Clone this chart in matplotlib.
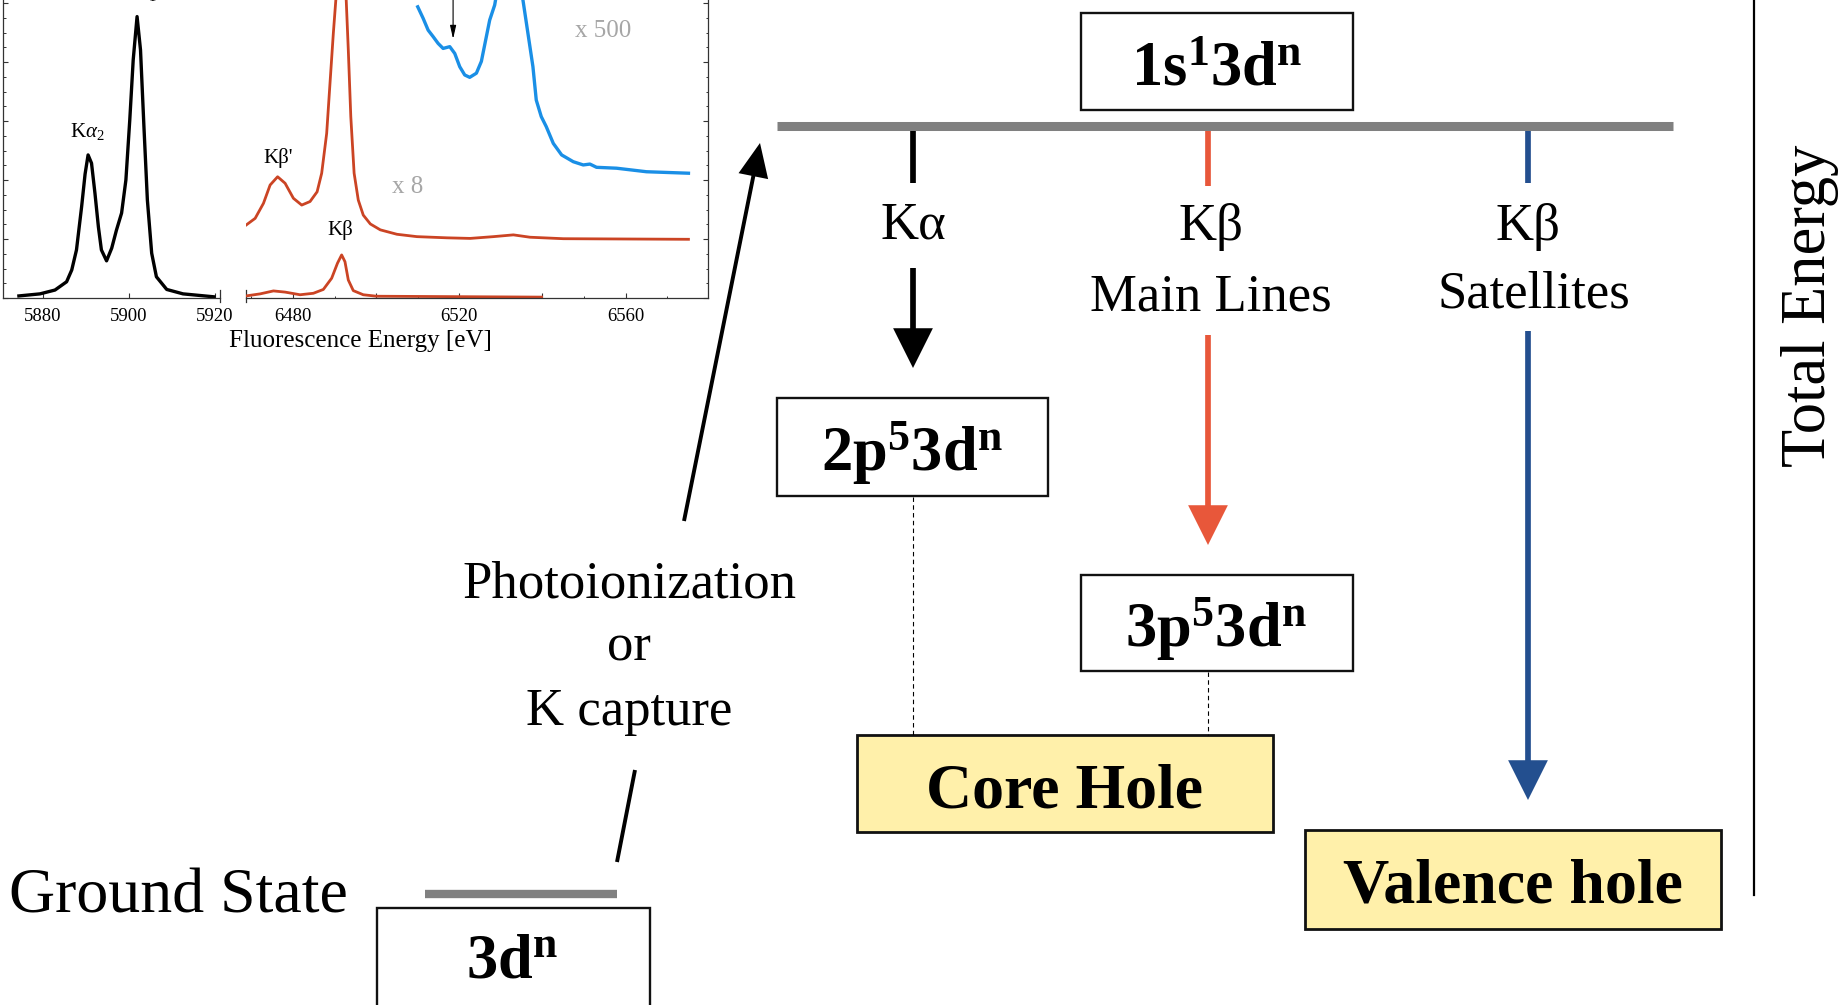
import matplotlib
matplotlib.use("Agg")
import matplotlib.pyplot as plt
from matplotlib.patches import Rectangle, FancyArrowPatch, ArrowStyle
from matplotlib.ticker import FixedLocator, FixedFormatter, MultipleLocator, NullFormatter

plt.rcParams['font.family'] = ['Liberation Serif', 'DejaVu Serif']
plt.rcParams['mathtext.fontset'] = 'custom'
plt.rcParams['mathtext.rm'] = 'Liberation Serif'
plt.rcParams['mathtext.it'] = 'Liberation Serif:italic'
plt.rcParams['mathtext.bf'] = 'Liberation Serif:bold'

# ---------------- emission spectra (normalised intensity) ----------------
ka_energy = [5874.4, 5879.3, 5882.8, 5885.5, 5886.7, 5887.8, 5889.0, 5889.8, 5890.5,
             5891.3, 5892.1, 5892.9, 5893.6, 5894.8, 5896.0, 5897.1, 5898.3, 5899.3,
             5900.2, 5901.0, 5901.9, 5902.7, 5903.5, 5904.3, 5905.3, 5906.4, 5908.8,
             5912.6, 5919.8]
ka_intensity = [0.007, 0.014, 0.027, 0.055, 0.095, 0.163, 0.31, 0.42, 0.485,
                0.457, 0.355, 0.241, 0.163, 0.126, 0.169, 0.23, 0.288, 0.40,
                0.603, 0.807, 0.954, 0.841, 0.58, 0.332, 0.152, 0.072, 0.029,
                0.014, 0.004]

kb_energy = [6468.7, 6472.1, 6475.3, 6478.1, 6481.7, 6484.9, 6487.3, 6489.3, 6490.7,
             6491.7, 6492.5, 6493.3, 6494.5, 6496.9, 6500.1, 6539.8]
kb_intensity = [0.007, 0.014, 0.024, 0.020, 0.011, 0.016, 0.029, 0.067, 0.118,
                0.146, 0.123, 0.061, 0.025, 0.011, 0.006, 0.003]

kb_x8_energy = [6468.7, 6470.9, 6472.9, 6474.5, 6476.3, 6478.1, 6480.1, 6482.1, 6484.1,
                6485.8, 6486.9, 6488.1, 6488.9, 6489.7, 6490.3, 6491.6, 6492.8, 6493.3,
                6493.9, 6494.7, 6495.7, 6496.9, 6498.6, 6501.0, 6505.0, 6509.8, 6517.0,
                6522.6, 6528.2, 6533.0, 6537.0, 6545.0, 6575.1]
kb_x8_intensity = [0.247, 0.27, 0.321, 0.383, 0.411, 0.389, 0.338, 0.315, 0.327,
                   0.36, 0.423, 0.558, 0.728, 0.897, 1.01, 1.37, 1.01, 0.841,
                   0.615, 0.423, 0.332, 0.281, 0.251, 0.231, 0.216, 0.208, 0.204,
                   0.202, 0.208, 0.214, 0.206, 0.201, 0.199]

kb_x500_energy = [6510.0, 6511.3, 6512.5, 6513.7, 6514.9, 6516.1, 6517.7, 6518.9, 6520.1,
                  6521.3, 6522.5, 6524.1, 6525.3, 6526.5, 6527.3, 6528.5, 6529.2, 6531.5,
                  6535.3, 6536.5, 6537.7, 6538.5, 6539.7, 6540.9, 6542.6, 6544.6, 6547.4,
                  6549.8, 6551.4, 6553.0, 6557.8, 6565.0, 6575.1]
kb_x500_intensity = [0.987, 0.948, 0.908, 0.886, 0.863, 0.846, 0.852, 0.829, 0.784,
                     0.756, 0.748, 0.762, 0.802, 0.886, 0.942, 0.993, 1.05, 1.30,
                     1.01, 0.897, 0.784, 0.671, 0.615, 0.581, 0.524, 0.485, 0.462,
                     0.451, 0.454, 0.443, 0.44, 0.428, 0.423]

ka_ticks = [5880, 5900, 5920]
kb_ticks = [6480, 6500, 6520, 6540, 6560]
kb_tick_labels = ['6480', '', '6520', '', '6560']

# ---------------- figure in pixel units ----------------
W, H = 1843, 1005
fig = plt.figure(figsize=(W / 100, H / 100), dpi=100)
dg = fig.add_axes([0, 0, 1, 1])
dg.set_xlim(0, W)
dg.set_ylim(H, 0)
dg.axis('off')
dg.patch.set_alpha(0)

GRAY = '#808080'
YELLOW = '#FFF0AA'
RED = '#E8573A'
BLUE = '#234F8F'


def box(x0, x1, y0, y1, fill='white', lw=1.7):
    dg.add_patch(Rectangle((x0, y0), x1 - x0, y1 - y0, facecolor=fill,
                           edgecolor='#111111', lw=lw, zorder=2))


def arrow(p0, p1, color, lw=4.1, hl=22, hw=11):
    style = ArrowStyle('-|>', head_length=hl, head_width=hw)
    dg.add_patch(FancyArrowPatch(p0, p1, arrowstyle=style, mutation_scale=1,
                                 lw=lw, color=color, shrinkA=0, shrinkB=0,
                                 joinstyle='miter', capstyle='butt', zorder=3))


# energy levels
dg.plot([777, 1673], [126, 126], color=GRAY, lw=6.5, solid_capstyle='butt')
dg.plot([425, 617], [894, 894], color=GRAY, lw=6.0, solid_capstyle='butt')

# configuration boxes
box(1081, 1353, 13, 110)
box(777, 1048, 398, 496)
box(1081, 1353, 575, 671)
box(377, 650, 908, 1100)
box(857, 1273, 735, 832, fill=YELLOW, lw=2.0)
box(1305, 1721, 830, 929, fill=YELLOW, lw=2.0)

BOXFS = 45
dg.text(1217, 85, r'$\mathbf{1s^{1}3d^{n}}$', fontsize=BOXFS, ha='center', va='baseline')
dg.text(912, 471, r'$\mathbf{2p^{5}3d^{n}}$', fontsize=BOXFS, ha='center', va='baseline')
dg.text(1216, 647, r'$\mathbf{3p^{5}3d^{n}}$', fontsize=BOXFS, ha='center', va='baseline')
dg.text(512, 977, r'$\mathbf{3d^{n}}$', fontsize=BOXFS, ha='center', va='baseline')
dg.text(1065, 807, 'Core Hole', fontsize=46, fontweight='bold', ha='center', va='baseline', zorder=4)
dg.text(1513, 902, 'Valence hole', fontsize=46, fontweight='bold', ha='center', va='baseline', zorder=4)

# decay channels
dg.plot([913, 913], [131, 183], color='black', lw=4.1, solid_capstyle='butt')
dg.plot([1208, 1208], [131, 186], color=RED, lw=4.1, solid_capstyle='butt')
dg.plot([1528, 1528], [131, 183], color=BLUE, lw=4.1, solid_capstyle='butt')
arrow((913, 268), (913, 368), 'black')
arrow((1208, 335), (1208, 545), RED)
arrow((1528, 331), (1528, 800), BLUE)

LBLFS = 38
dg.text(913, 238, 'Kα', fontsize=LBLFS, ha='center', va='baseline')
dg.text(1211, 240, 'Kβ', fontsize=LBLFS, ha='center', va='baseline')
dg.text(1211, 310, 'Main Lines', fontsize=LBLFS, ha='center', va='baseline')
dg.text(1528, 240, 'Kβ', fontsize=LBLFS, ha='center', va='baseline')
dg.text(1534, 307, 'Satellites', fontsize=LBLFS, ha='center', va='baseline')

# thin connectors to the core-hole box
dg.plot([913, 913], [497, 735], color='black', lw=0.8, ls=(0, (4, 3)))
dg.plot([1208, 1208], [672, 735], color='black', lw=0.8, ls=(0, (4, 3)))

# excitation from the ground state
dg.plot([617, 635], [862, 770], color='black', lw=2.8, solid_capstyle='butt')
arrow((684, 521), (760, 143), 'black', lw=2.8, hl=19.5, hw=8.7)
for yb, s in zip([597, 660, 725], ['Photoionization', 'or', 'K capture']):
    dg.text(629, yb, s, fontsize=LBLFS, ha='center', va='baseline')

dg.text(9, 912, 'Ground State', fontsize=46, ha='left', va='baseline')

# total energy axis
dg.plot([1754, 1754], [0, 895], color='black', lw=1.6)
dg.text(1825, 306, 'Total Energy', fontsize=45, rotation=90, rotation_mode='anchor',
        ha='center', va='baseline')

dg.text(360, 347, 'Fluorescence Energy [eV]', fontsize=18, ha='center', va='baseline')


# ---------------- spectra insets ----------------
def rect(x0, x1, y_bottom, height):
    return [x0 / W, (H - y_bottom) / H, (x1 - x0) / W, height / H]


ax_a = fig.add_axes(rect(3, 220, 298, 354))
ax_b = fig.add_axes(rect(246, 708, 298, 354))

for ax in (ax_a, ax_b):
    ax.patch.set_alpha(0)
    ax.set_ylim(0, 1.2)
    ax.spines['top'].set_visible(False)
    for sp in ax.spines.values():
        sp.set_linewidth(0.9)
        sp.set_color('#333333')
    ax.yaxis.set_major_locator(MultipleLocator(0.2))
    ax.yaxis.set_minor_locator(MultipleLocator(0.05))
    ax.yaxis.set_major_formatter(NullFormatter())
    ax.tick_params(axis='both', which='major', direction='in', length=3.6, width=0.8,
                   color='#333333', labelsize=13.5, pad=7)
    ax.tick_params(axis='both', which='minor', direction='in', length=1.8, width=0.7,
                   color='#333333')

ax_a.spines['right'].set_visible(False)
ax_b.spines['left'].set_visible(False)
ax_b.yaxis.tick_right()
ax_b.tick_params(axis='y', which='both', labelright=False)

ax_a.set_xlim(5870.7, 5921.2)
ax_a.xaxis.set_major_locator(FixedLocator(ka_ticks))
ax_a.set_xticklabels([str(t) for t in ka_ticks])

ax_b.set_xlim(6468.7, 6579.8)
ax_b.xaxis.set_major_locator(FixedLocator(kb_ticks))
ax_b.xaxis.set_major_formatter(FixedFormatter(kb_tick_labels))
ax_b.xaxis.set_minor_locator(MultipleLocator(10))

# break marks at the gap
ax_a.plot([1, 1], [-0.012, 0.024], transform=ax_a.transAxes, color='#333333', lw=0.9, clip_on=False)
ax_b.plot([0, 0], [-0.012, 0.024], transform=ax_b.transAxes, color='#333333', lw=0.9, clip_on=False)

ax_a.plot(ka_energy, ka_intensity, color='black', lw=2.4, solid_joinstyle='round')
ax_b.plot(kb_energy, kb_intensity, color='#CB4424', lw=2.0, solid_joinstyle='round')
ax_b.plot(kb_x8_energy, kb_x8_intensity, color='#CB4424', lw=2.0, solid_joinstyle='round')
ax_b.plot(kb_x500_energy, kb_x500_intensity, color='#1A8FE6', lw=2.4, solid_joinstyle='round')

ax_b.annotate('', xy=(6518.5, 0.878), xytext=(6518.5, 1.1),
              arrowprops=dict(arrowstyle='-|>,head_length=0.8,head_width=0.18',
                              mutation_scale=10, lw=0.8, color='black',
                              shrinkA=0, shrinkB=0))

ax_a.text(5890.2, 0.546, r'K$\alpha_2$', fontsize=15, ha='center', va='baseline')
ax_a.text(5902.5, 1.017, r'K$\alpha_1$', fontsize=15, ha='center', va='baseline', clip_on=False)
ax_b.text(6476.4, 0.458, "Kβ'", fontsize=15, ha='center', va='baseline')
ax_b.text(6491.3, 0.214, 'Kβ', fontsize=15, ha='center', va='baseline')
ax_b.text(6507.6, 0.376, 'x 8', fontsize=18, color='#A6A6A6', ha='center', va='center')
ax_b.text(6554.5, 0.905, 'x 500', fontsize=18, color='#A6A6A6', ha='center', va='center')

fig.savefig('out.png', dpi=100)
